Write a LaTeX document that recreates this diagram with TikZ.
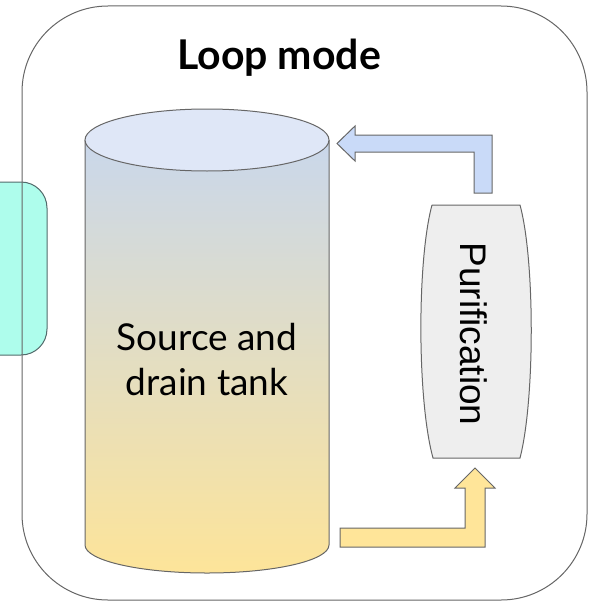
\documentclass[tikz,border=0pt]{standalone}
\usepackage{fontspec}
\setmainfont{Lato}
\newfontfamily\arialfont{Liberation Sans}
\usepackage{tikz}
\usetikzlibrary{positioning, calc}
\definecolor{edgegrey}{HTML}{666666}
\definecolor{tealbox}{HTML}{AEFDEC}
\definecolor{pipeblue}{HTML}{C9DAF8}
\definecolor{pipeyellow}{HTML}{FFE599}
\definecolor{tanktop}{HTML}{DFE7F7}
\definecolor{tankblue}{HTML}{C9D7EB}
\definecolor{tankyellow}{HTML}{FDE499}
\definecolor{purifgrey}{HTML}{EEEEEE}
\tikzset{
  outline/.style={draw=edgegrey, line width=1pt},
  pipe/.style={outline, line join=miter},
}

\begin{document}
\begin{tikzpicture}[x=1pt, y=-1pt]
  \useasboundingbox (0,0) rectangle (590,602);
  \clip (0,0) rectangle (590,602);
  % side box and loop frame
  \draw[outline, draw=edgegrey!80!teal, fill=tealbox, rounded corners=26pt] (-30,182) rectangle (47,355);
  \draw[outline, rounded corners=86pt] (22,6) rectangle (587,600);
  \node[font=\bfseries\fontsize{41}{49}\selectfont] (title) at (279,58) {Loop mode};
  % tank
  \shade[top color=tankblue, bottom color=tankyellow] (85,140) -- (85,545) arc[start angle=180, end angle=0, x radius=122, y radius=28] -- (329,140) -- cycle;
  \draw[outline] (85,140) -- (85,545) arc[start angle=180, end angle=0, x radius=122, y radius=28] -- (329,140);
  \draw[outline, fill=tanktop] (207,140) ellipse[x radius=122, y radius=31];
  \node[align=center, font=\fontsize{37}{45}\selectfont] (tank) at (207,360) {Source and\\drain tank};
  % purification unit
  \draw[outline, fill=purifgrey] (432,205) -- (520,205) .. controls (535,260) and (535,400) .. (520,458) -- (433,458) .. controls (417,400) and (417,260) .. (432,205);
  \node[rotate=-90, font=\arialfont\fontsize{37}{44}\selectfont] (purif) at (474,334) {Purification};
  % flow arrows
  \draw[pipe, fill=pipeblue] (492,193) -- (492,135) -- (355,135) -- (355,126) -- (337,143.5) -- (355,161) -- (355,152) -- (474,152) -- (474,193) -- cycle;
  \draw[pipe, fill=pipeyellow] (340,528) -- (465,528) -- (465,488) -- (455,488) -- (475,468) -- (495,488) -- (485,488) -- (485,547) -- (340,547) -- cycle;
\end{tikzpicture}
\end{document}
